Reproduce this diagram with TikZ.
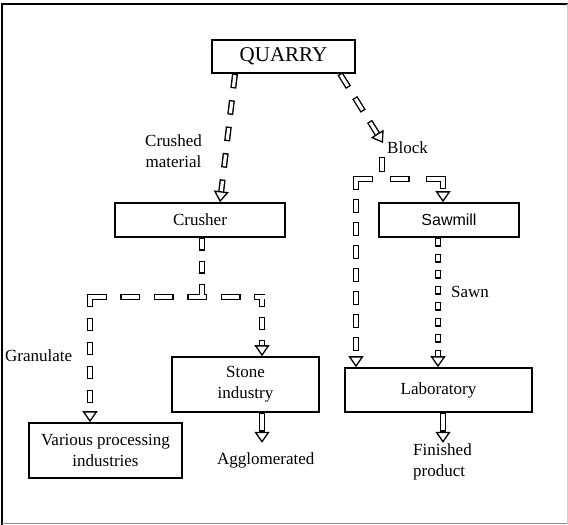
\documentclass[tikz,border=0pt]{standalone}
\usepackage{fontspec}
\setmainfont{Liberation Serif}
\newfontfamily\sawfont{Liberation Sans}
\usetikzlibrary{arrows.meta,calc}

% outlined dashes: a wide black dash, then a narrower white dash inset by 1.4pt
\tikzset{
  pipeout/.code 2 args={%
    \edef\pipetmp{\noexpand\tikzset{draw=black, line width=6pt,
      dash pattern=on #1pt off #2pt}}\pipetmp},
  pipein/.code 2 args={%
    \pgfmathsetmacro\pipeon{#1-2.8}%
    \pgfmathsetmacro\pipeoff{#2+2.8}%
    \pgfmathsetmacro\pipephase{#1+#2-1.4}%
    \edef\pipetmp{\noexpand\tikzset{draw=white, line width=3.2pt,
      dash pattern=on \pipeon pt off \pipeoff pt, dash phase=\pipephase pt}}\pipetmp},
  box/.style={draw=black, line width=1.6pt, fill=white, inner sep=0pt,
    align=center, font=\fontsize{17}{21}\selectfont},
  lbl/.style={inner sep=0pt, align=center, font=\fontsize{17}{21}\selectfont},
  tip/.style={draw=black, line width=1.3pt,
    -{Triangle[fill=white, length=11pt 0 0, width=15pt 0 0]}},
}

% every connector shaft, drawn once per layer
\newcommand\pipework{%
  \draw[pipe={14.6}{12}] (qc) -- ($(cq)!10pt!(qc)$);
  \draw[pipe={16}{12}] (qb) -- ($(bt)!9pt!(qb)$);
  \draw[pipe={15}{20}] (bs1) -- (bs2);
  \draw[pipe={20}{16.5}] ([xshift=-3pt]bl) -- ([xshift=3pt]br);
  \draw[pipe={14}{9}] ([yshift=3pt]bl) -- ([yshift=10pt]sl);
  \draw[pipe={13}{10}] ([yshift=3pt]br) -- ([yshift=10pt]ss);
  \draw[pipe={9}{7}] (sd) -- ([yshift=10pt]ld);
  \draw[pipe={19}{20}] (lo) -- ([yshift=10pt]lf);
  \draw[pipe={13}{10}] (cd) -- (cj);
  \draw[pipe={20}{13.4}] ([xshift=-3pt]cl) -- ([xshift=3pt]cr);
  \draw[pipe={13}{11}] ([yshift=3pt]cl) -- ([yshift=10pt]vt);
  \draw[pipe={13}{10}] ([yshift=3pt]cr) -- ([yshift=10pt]st);
  \draw[pipe={19}{20}] (so) -- ([yshift=10pt]sf);
}

\begin{document}
\begin{tikzpicture}[x=1pt,y=-1pt]
\useasboundingbox (0,0) rectangle (568,525);

% page frame
\draw[black, line width=2pt] (2,525) -- (2,3.5) -- (568,3.5);
\draw[black!45, line width=1.5pt] (2,523.5) -- (568,523.5);
\draw[black!20, line width=1pt] (567,3.5) -- (567,523.5);

% boxes
\node[box, minimum width=143pt, minimum height=33pt,
  font=\fontsize{21}{25}\selectfont] (quarry) at (283.5,56.5) {QUARRY};
\node[box, minimum width=170pt, minimum height=34pt] (crusher) at (200,220) {Crusher};
\node[box, minimum width=140pt, minimum height=34pt,
  font=\sawfont\fontsize{16}{19}\selectfont] (sawmill) at (449,220) {Sawmill};
\node[box, minimum width=147pt, minimum height=55pt] (stone) at (245.5,384.5) {Stone\\industry};
\node[box, minimum width=187pt, minimum height=44pt] (lab) at (438.5,390) {Laboratory};
\node[box, minimum width=153pt, minimum height=55pt] (various) at (105.5,450.5) {Various processing\\industries};

% labels
\node[lbl] (crushed) at (173.5,151.5) {Crushed\\material};
\node[lbl, anchor=west] (block) at (387,148) {Block};
\node[lbl, anchor=west] (sawn) at (451,292) {Sawn};
\node[lbl, anchor=west] (gran) at (5,356) {Granulate};
\node[lbl, anchor=west] (aggl) at (217,460) {Agglomerated};
\node[lbl, align=left, anchor=west] (fin) at (413,462) {Finished\\product};

% connector end points
\coordinate (qc) at ([xshift=-48.5pt]quarry.south);
\coordinate (cq) at ([xshift=20pt]crusher.north);
\coordinate (qb) at ([xshift=56.5pt]quarry.south);
\coordinate (bt) at (383,143);
\coordinate (bs1) at (382,157);
\coordinate (bs2) at (382,172);
\coordinate (sl) at ([xshift=-82.5pt]lab.north);
\coordinate (ss) at ([xshift=-6pt]sawmill.north);
\coordinate (bl) at (sl |- 0,179);
\coordinate (br) at (ss |- 0,179);
\coordinate (sd) at ([xshift=-11pt]sawmill.south);
\coordinate (ld) at (sd |- lab.north);
\coordinate (lo) at ([xshift=4.5pt]lab.south);
\coordinate (lf) at ([yshift=-30pt]lo);
\coordinate (cd) at ([xshift=2pt]crusher.south);
\coordinate (cj) at (cd |- 0,297);
\coordinate (vt) at ([xshift=-15.5pt]various.north);
\coordinate (st) at ([xshift=16.5pt]stone.north);
\coordinate (cl) at (vt |- cj);
\coordinate (cr) at (st |- cj);
\coordinate (so) at (st |- stone.south);
\coordinate (sf) at ([yshift=-30pt]so);

% shafts: outlines first, then their white cores
\tikzset{pipe/.style 2 args={pipeout={#1}{#2}}}
\pipework
\tikzset{pipe/.style 2 args={pipein={#1}{#2}}}
\pipework

% arrow heads
\draw[tip] ($(cq)!11pt!(qc)$) -- (cq);
\draw[tip] ($(bt)!11pt!(qb)$) -- (bt);
\draw[tip] ([yshift=11pt]sl) -- (sl);
\draw[tip] ([yshift=11pt]ss) -- (ss);
\draw[tip] ([yshift=11pt]ld) -- (ld);
\draw[tip] ([yshift=11pt]lf) -- (lf);
\draw[tip] ([yshift=11pt]vt) -- (vt);
\draw[tip] ([yshift=11pt]st) -- (st);
\draw[tip] ([yshift=11pt]sf) -- (sf);
\end{tikzpicture}
\end{document}
